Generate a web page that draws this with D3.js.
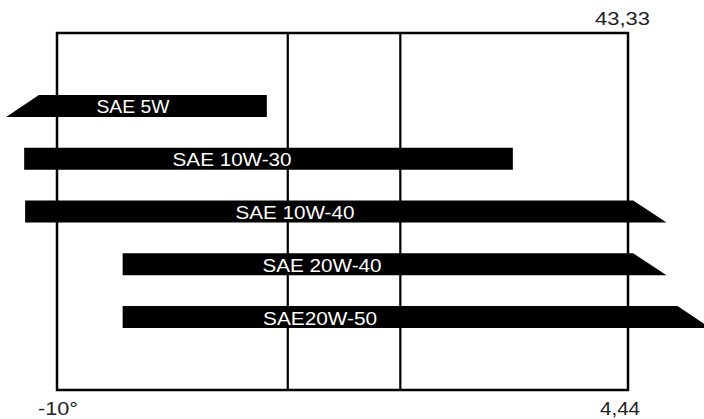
<!DOCTYPE html>
<html><head><meta charset="utf-8">
<script src="https://cdn.jsdelivr.net/npm/d3@7/dist/d3.min.js"></script>
<style>body{margin:0;background:#fff}svg{display:block}</style>
</head><body>
<script>
// Data (temperature units on an abstract scale: box spans -10 .. 110)
const grades = ["SAE 5W", "SAE 10W-30", "SAE 10W-40", "SAE 20W-40", "SAE20W-50"];
// bar outline: bottom-left, top-left, top-right, bottom-right (data units)
const leftBottom = [-20.7, -16.9, -16.7, 3.8, 3.8];
const leftTop    = [-13.8, -16.9, -16.7, 3.8, 3.8];
const rightTop   = [34.1, 85.8, 111.1, 111.1, 120.4];
const rightBottom= [34.1, 85.8, 118.1, 118.1, 127.4];
const labelAt    = [5.97, 26.8, 40.0, 45.7, 45.3];
const gridValues = [38.5, 62.15];
const domainX = [-10, 110];
const cornerLabels = {bottomLeft: "-10°", bottomRight: "4,44", topRight: "43,33"};

const W = 704, H = 419;
const box = {l: 57, r: 628, t: 33, b: 390};
const svg = d3.select("body").append("svg").attr("width", W).attr("height", H);

const x = d3.scaleLinear().domain(domainX).range([box.l, box.r]);
const y = d3.scalePoint().domain(grades).range([box.t, box.b]).padding(1.38);
const barH = 22;
const font = "Liberation Sans, Arial, sans-serif";

// frame
svg.append("rect").attr("x", box.l).attr("y", box.t)
  .attr("width", box.r - box.l).attr("height", box.b - box.t)
  .attr("fill", "none").attr("stroke", "#000").attr("stroke-width", 2.5);
svg.selectAll("line.grid").data(gridValues).join("line")
  .attr("class", "grid")
  .attr("x1", d => x(d)).attr("x2", d => x(d))
  .attr("y1", box.t).attr("y2", box.b)
  .attr("stroke", "#000").attr("stroke-width", 2.2);

// bars
const rows = grades.map((g, i) => ({g, i}));
svg.selectAll("path.bar").data(rows).join("path")
  .attr("class", "bar")
  .attr("fill", "#000")
  .attr("d", d => {
    const cy = y(d.g), t = cy - barH / 2, b = cy + barH / 2;
    return `M${x(leftBottom[d.i])},${b}L${x(leftTop[d.i])},${t}L${x(rightTop[d.i])},${t}L${x(rightBottom[d.i])},${b}Z`;
  });

const textW = [73, 119, 119, 119, 114];
svg.selectAll("text.lab").data(rows).join("text")
  .attr("class", "lab")
  .attr("x", d => x(labelAt[d.i]))
  .attr("y", d => y(d.g) + 7.5)
  .attr("text-anchor", "middle")
  .attr("fill", "#fff")
  .attr("font-family", font)
  .attr("font-size", 18)
  .attr("textLength", d => textW[d.i])
  .attr("lengthAdjust", "spacingAndGlyphs")
  .text(d => d.g);

const corner = svg.append("g").attr("font-family", font)
  .attr("font-size", 18).attr("fill", "#222");
corner.append("text").attr("x", 38).attr("y", 415)
  .attr("textLength", 40).attr("lengthAdjust", "spacingAndGlyphs").text(cornerLabels.bottomLeft);
corner.append("text").attr("x", 600).attr("y", 415)
  .attr("textLength", 40).attr("lengthAdjust", "spacingAndGlyphs").text(cornerLabels.bottomRight);
corner.append("text").attr("x", 595).attr("y", 25)
  .attr("textLength", 55).attr("lengthAdjust", "spacingAndGlyphs").text(cornerLabels.topRight);
</script>
</body></html>
